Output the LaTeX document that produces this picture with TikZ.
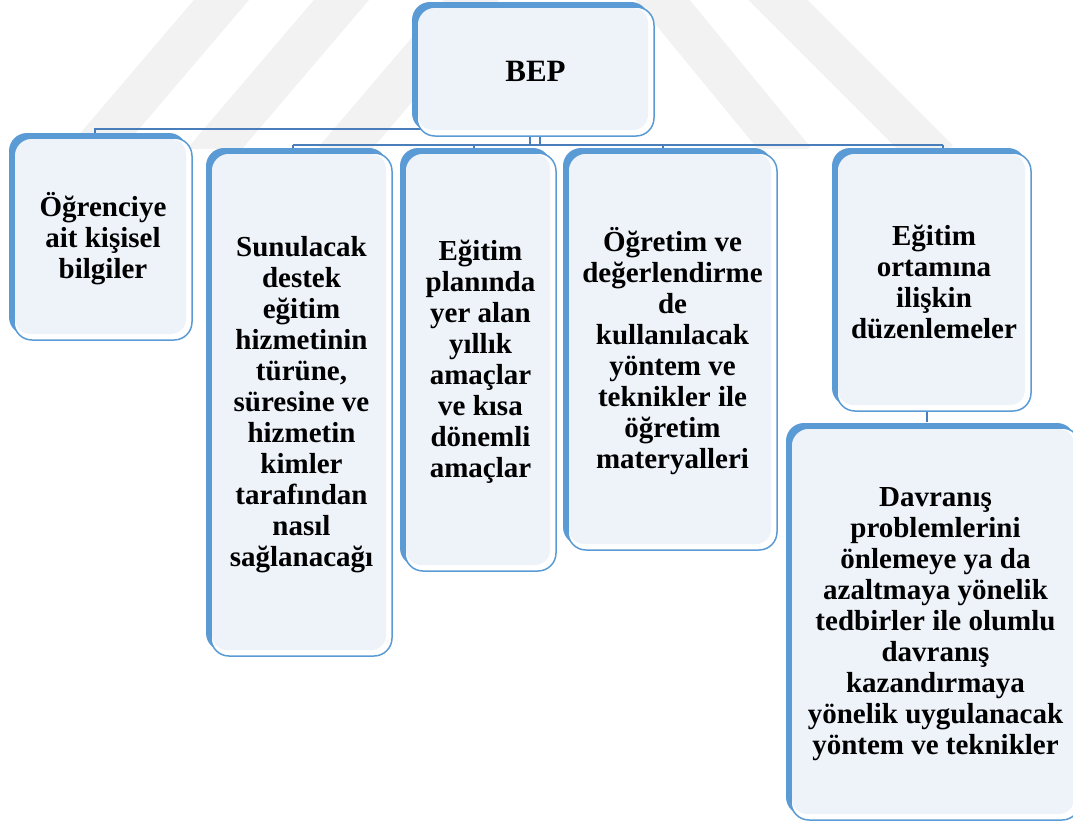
\documentclass[tikz,border=0pt]{standalone}
\usepackage{fontspec}
\setmainfont{Liberation Serif}
\usetikzlibrary{shadows}
\definecolor{bepblue}{HTML}{5B9BD5}
\definecolor{linkblue}{HTML}{4A7EBB}
\definecolor{innerfill}{HTML}{EEF3FA}
\definecolor{wmgray}{HTML}{F2F2F2}
\begin{document}
\begin{tikzpicture}[x=1pt,y=-1pt,
  box/.style={draw=bepblue, line width=1.5pt, fill=white, rounded corners=18pt,
    align=center, font=\fontsize{29}{31}\selectfont\bfseries, inner sep=0pt,
    general shadow={fill=bepblue, shadow xshift=-5pt, shadow yshift=5pt},
    path picture={\fill[innerfill, rounded corners=15pt]
      ([shift={(1pt,-1pt)}]path picture bounding box.north west) rectangle
      ([shift={(-6pt,6pt)}]path picture bounding box.south east);}},
  conn/.style={draw=linkblue, line width=2pt},
  wm/.style={draw=wmgray, line width=42pt}]
\useasboundingbox (0,0) rectangle (1073,823);
% watermark
\begin{scope}
  \clip (0,0) rectangle (1073,148);
  \draw[wm] (247,-30) -- (85,160);
  \draw[wm] (367,-30) -- (205,160);
  \draw[wm] (497,-30) -- (335,160);
  \draw[wm] (638,-30) -- (794,160);
  \draw[wm] (748,-30) -- (938,160);
\end{scope}
% junction coordinates
\coordinate (j1) at (95,129);
\coordinate (t2) at (293,145);
\coordinate (t3) at (474,145);
\coordinate (t4) at (663,145);
\coordinate (t5) at (943,145);
% connectors (drawn under the boxes)
\draw[conn] (535,70) coordinate (bc) |- (j1) -- ++(0,8);
\draw[conn] (t2) -- (t5);
\draw[conn] (t2) -- ++(0,6);
\draw[conn] (t3) -- ++(0,6);
\draw[conn] (t4) -- ++(0,6);
\draw[conn] (t5) -- ++(0,6);
% boxes
\node[box, minimum width=237pt, minimum height=129pt, font=\fontsize{31}{33}\selectfont\bfseries] (bep) at (535.5,71.5) {BEP};
\node[box, minimum width=178pt, minimum height=202pt] (n1) at (103,239) {Öğrenciye\\ait kişisel\\bilgiler};
\node[box, minimum width=181pt, minimum height=503pt] (n2) at (301.5,404.5) {Sunulacak\\destek\\eğitim\\hizmetinin\\türüne,\\süresine ve\\hizmetin\\kimler\\tarafından\\nasıl\\sağlanacağı};
\node[box, minimum width=151pt, minimum height=418pt] (n3) at (480.5,362) {Eğitim\\planında\\yer alan\\yıllık\\amaçlar\\ve kısa\\dönemli\\amaçlar};
\node[box, minimum width=209pt, minimum height=397pt] (n4) at (672.5,351.5) {Öğretim ve\\değerlendirme\\de\\kullanılacak\\yöntem ve\\teknikler ile\\öğretim\\materyalleri};
\node[box, minimum width=194pt, minimum height=258pt] (n5) at (934,282) {Eğitim\\ortamına\\ilişkin\\düzenlemeler};
\node[box, minimum width=289pt, minimum height=392pt] (n6) at (935.5,624) {Davranış\\problemlerini\\önlemeye ya da\\azaltmaya yönelik\\tedbirler ile olumlu\\davranış\\kazandırmaya\\yönelik uygulanacak\\yöntem ve teknikler};
% links from BEP down to the lower bar
\draw[conn] ([xshift=-5.5pt]bep.south) -- ([xshift=-5.5pt]bep.south |- t2);
\draw[conn] ([xshift=4pt]bep.south) -- ([xshift=4pt]bep.south |- t2);
% link between n5 and n6
\draw[conn] ([xshift=-7pt]n5.south) -- ([xshift=-7pt,yshift=5pt]n5.south |- n6.north);
\end{tikzpicture}
\end{document}
